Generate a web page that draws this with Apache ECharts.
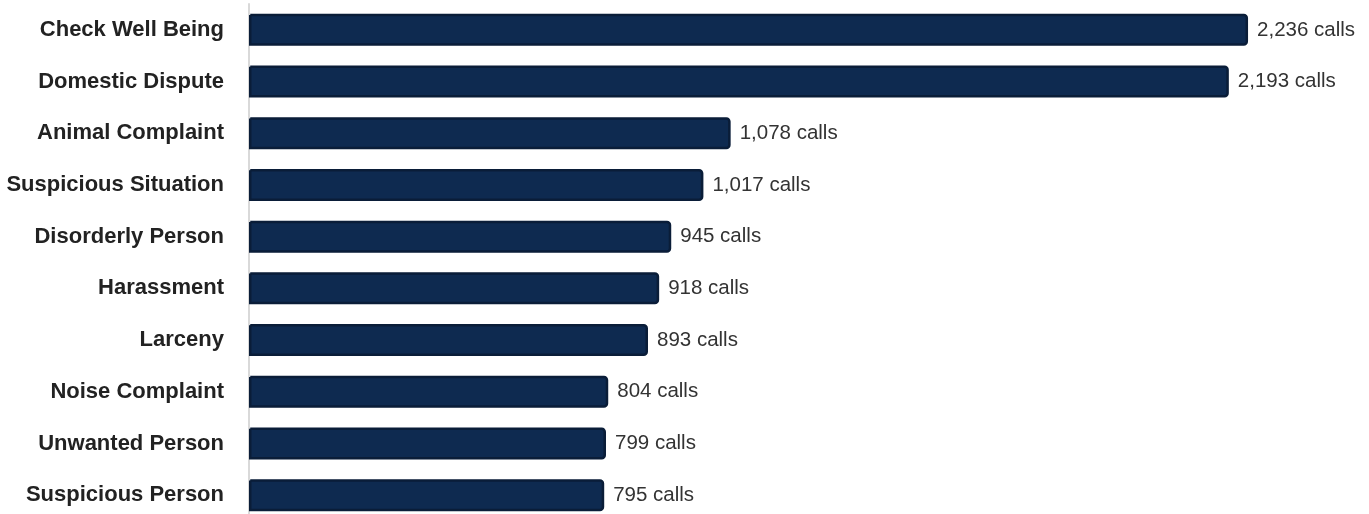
<!DOCTYPE html>
<html>
<head>
<meta charset="utf-8">
<script src="https://cdn.jsdelivr.net/npm/echarts@6/dist/echarts.min.js"></script>
<style>
  html, body { margin: 0; padding: 0; background: #fff; }
  #chart { width: 1369px; height: 514px; }
</style>
</head>
<body>
<div id="chart"></div>
<script>
// call types, top to bottom
var callTypes = [
  'Check Well Being',
  'Domestic Dispute',
  'Animal Complaint',
  'Suspicious Situation',
  'Disorderly Person',
  'Harassment',
  'Larceny',
  'Noise Complaint',
  'Unwanted Person',
  'Suspicious Person'
];
var callCounts = [2236, 2193, 1078, 1017, 945, 918, 893, 804, 799, 795];

var labelFont = '"Liberation Sans", Arial, sans-serif';

var chart = echarts.init(document.getElementById('chart'));
var option = {
  animation: false,
  grid: { left: 249, right: 3, top: 4, height: 517, containLabel: false, outerBoundsMode: 'none' },
  xAxis: {
    type: 'value',
    min: 0,
    max: 2500,
    show: false
  },
  yAxis: {
    type: 'category',
    inverse: true,
    data: callTypes,
    axisTick: { show: false },
    axisLine: { show: true, lineStyle: { color: '#d9d9d9', width: 2 } },
    axisLabel: {
      margin: 25,
      fontFamily: labelFont,
      fontWeight: 'bold',
      fontSize: 22,
      color: '#222'
    }
  },
  series: [{
    type: 'bar',
    data: callCounts,
    barWidth: 32,
    itemStyle: {
      color: '#0e2a50',
      borderColor: '#0a1d38',
      borderWidth: 2.5,
      borderRadius: [0, 3, 3, 0]
    },
    label: {
      show: true,
      position: 'right',
      distance: 9,
      fontFamily: labelFont,
      fontSize: 20.5,
      color: '#333',
      formatter: function (p) {
        return p.value.toLocaleString('en-US') + ' calls';
      }
    }
  }]
};
chart.setOption(option);
</script>
</body>
</html>
